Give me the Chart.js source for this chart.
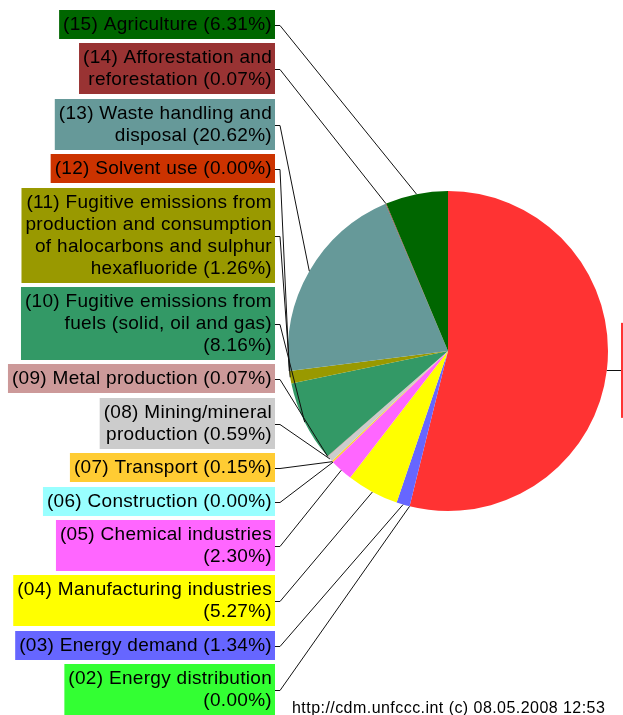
<!DOCTYPE html>
<html>
<head>
<meta charset="utf-8">
<script src="https://cdn.jsdelivr.net/npm/chart.js"></script>
<style>
  html, body { margin: 0; padding: 0; background: #fff; }
  canvas { display: block; }
</style>
</head>
<body>
<canvas id="chart_pie" width="623" height="715"></canvas>
<script>
// sector names, '|' = line break, trailing '|' puts the share on its own line
const names = [
  '(01) Energy industries|(renewable - / non-|renewable sources)|',
  '(02) Energy distribution|',
  '(03) Energy demand',
  '(04) Manufacturing industries|',
  '(05) Chemical industries|',
  '(06) Construction',
  '(07) Transport',
  '(08) Mining/mineral|production',
  '(09) Metal production',
  '(10) Fugitive emissions from|fuels (solid, oil and gas)|',
  '(11) Fugitive emissions from|production and consumption|of halocarbons and sulphur|hexafluoride',
  '(12) Solvent use',
  '(13) Waste handling and|disposal',
  '(14) Afforestation and|reforestation',
  '(15) Agriculture'
]
// share of each sector, %
const shares = [53.86, 0.00, 1.34, 5.27, 2.30, 0.00, 0.15, 0.59, 0.07, 8.16, 1.26, 0.00, 20.62, 0.07, 6.31]
const colours = [
  '#ff3333', '#33ff33', '#6666ff', '#ffff00', '#ff66ff',
  '#99ffff', '#ffcc33', '#cccccc', '#cc9999', '#339966',
  '#999900', '#cc3300', '#669999', '#993333', '#006600'
]
const footer = 'http://cdm.unfccc.int (c) 08.05.2008 12:53'

function linesFor(i){
  const parts = names[i].split('|')
  const last = parts.pop()
  const pct = '(' + shares[i].toFixed(2) + '%)'
  parts.push(last ? last + ' ' + pct : pct)
  return parts
}

// label boxes + leader lines
const leaders = {
  id: 'leaders',
  afterDraw(chart){
    const ctx = chart.ctx
    const arcs = chart.getDatasetMeta(0).data
    const lineH = 22, pad = 7, gap = 4.4, right = 275
    ctx.save()
    ctx.font = '19px "Liberation Sans", Arial, sans-serif'
    ctx.letterSpacing = '0.3px'
    ctx.textBaseline = 'middle'
    ctx.lineWidth = 1
    ctx.strokeStyle = '#111'

    const anchor = (a) => {
      const mid = (a.startAngle + a.endAngle) / 2
      return [a.x + Math.cos(mid) * a.outerRadius, a.y + Math.sin(mid) * a.outerRadius]
    }

    let top = 10
    for(let i = arcs.length - 1; i >= 1; i--){
      const lines = linesFor(i)
      const h = lines.length * lineH + pad
      const w = Math.max(...lines.map(s => ctx.measureText(s).width)) + 7
      const y0 = Math.round(top)
      ctx.fillStyle = colours[i]
      ctx.fillRect(right - w, y0, w, h)
      ctx.fillStyle = '#000'
      ctx.textAlign = 'right'
      lines.forEach((s, j) => ctx.fillText(s, right - 3, y0 + pad / 2 + lineH * (j + 0.5)))

      const my = Math.round(y0 + h / 2) + 0.5
      const [px, py] = anchor(arcs[i])
      ctx.beginPath()
      ctx.moveTo(right, my)
      ctx.lineTo(right + 5, my)
      ctx.lineTo(px, py)
      ctx.stroke()
      top += h + gap
    }

    // first sector sits on the right, mostly outside the picture
    const lines0 = linesFor(0)
    const [qx, qy] = anchor(arcs[0])
    const h0 = lines0.length * lineH + pad
    const w0 = Math.max(...lines0.map(s => ctx.measureText(s).width)) + 7
    ctx.fillStyle = colours[0]
    ctx.fillRect(621, qy - h0 / 2, w0, h0)
    ctx.fillStyle = '#000'
    ctx.textAlign = 'left'
    lines0.forEach((s, j) => ctx.fillText(s, 624, qy - h0 / 2 + pad / 2 + lineH * (j + 0.5)))
    ctx.beginPath()
    ctx.moveTo(qx, Math.round(qy) + 0.5)
    ctx.lineTo(621, Math.round(qy) + 0.5)
    ctx.stroke()

    // footer
    ctx.font = '16px "Liberation Sans", Arial, sans-serif'
    ctx.letterSpacing = '0.45px'
    ctx.textAlign = 'left'
    ctx.textBaseline = 'alphabetic'
    ctx.fillText(footer, 292, 713)
    ctx.restore()
  }
}

new Chart(document.getElementById('chart_pie'), {
  type: 'pie',
  data: {
    labels: names.map(n => n.replace(/\|/g, ' ').trim()),
    datasets: [{
      data: shares,
      backgroundColor: colours,
      borderWidth: 0
    }]
  },
  options: {
    responsive: false,
    animation: false,
    layout: { padding: { left: 288, right: 15, top: 191, bottom: 204 } },
    plugins: {
      legend: { display: false },
      tooltip: { enabled: false }
    }
  },
  plugins: [leaders]
})
</script>
</body>
</html>
